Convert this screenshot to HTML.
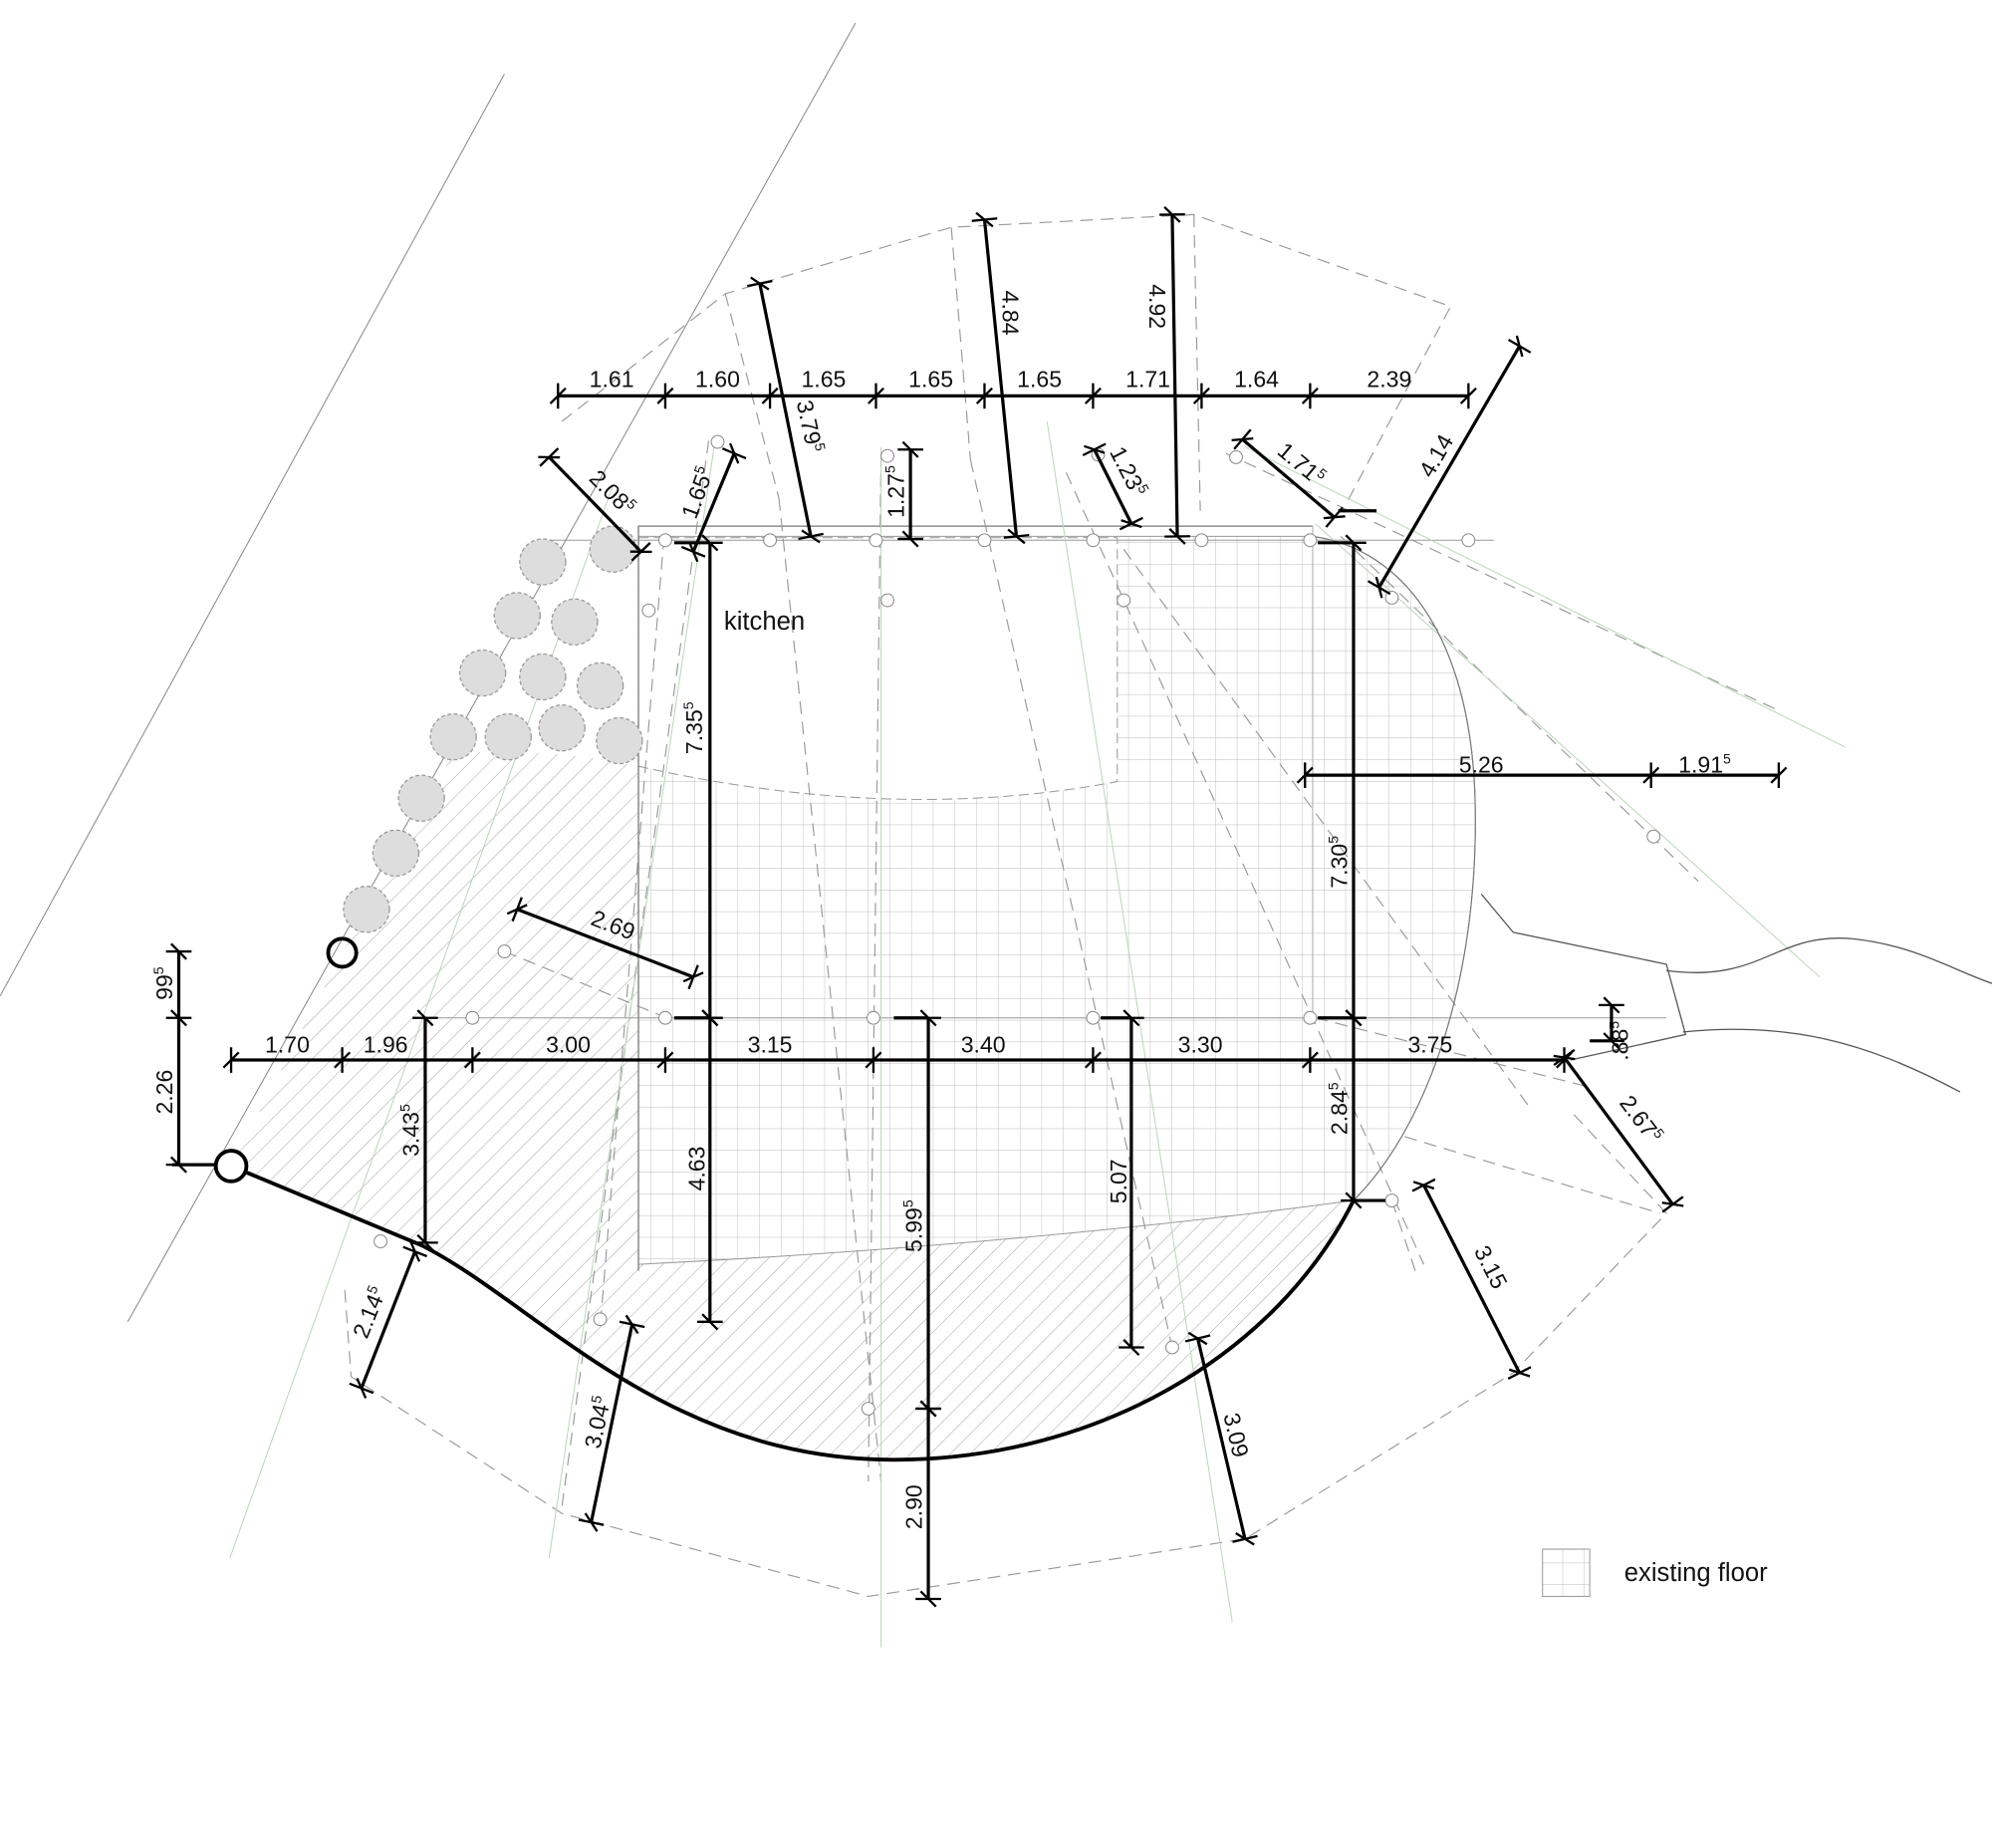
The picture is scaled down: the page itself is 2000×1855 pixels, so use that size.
<!DOCTYPE html>
<html><head><meta charset="utf-8"><style>
html,body{margin:0;padding:0;background:#fff}
svg{display:block}
text{font-family:"Liberation Sans",sans-serif;fill:#111}
.d{font-size:18px}
.s{font-size:11px}
</style></head><body>
<svg width="2000" height="1855" viewBox="0 0 1560 1447" preserveAspectRatio="none" xmlns="http://www.w3.org/2000/svg">
<defs>
<pattern id="grid" width="17" height="17" patternUnits="userSpaceOnUse">
<path d="M17 0V17M0 17H17" stroke="#bbb" stroke-width="0.7" fill="none"/>
</pattern>
<pattern id="hatch" width="11" height="11" patternUnits="userSpaceOnUse" patternTransform="rotate(45)">
<line x1="0" y1="0" x2="0" y2="11" stroke="#999" stroke-width="0.7"/>
</pattern>
<marker id="t" markerUnits="userSpaceOnUse" markerWidth="30" markerHeight="30" refX="0" refY="0" viewBox="-15 -15 30 30" orient="auto" overflow="visible">
<path d="M0,-10 L0,10 M-6,6 L6,-6" stroke="#000" stroke-width="1.8" fill="none"/>
</marker>
</defs>
<rect width="1560" height="1447" fill="#fff"/>
<g stroke="#888" stroke-width="0.8" fill="none">
<line x1="0" y1="780" x2="395" y2="58"/>
<line x1="100" y1="1035" x2="670" y2="18"/>
</g>
<path d="M500,420 L1028,420 C1100,430 1150,500 1155,620 C1160,760 1120,880 1060,940 Q800,975 500,990 Z" fill="url(#grid)" stroke="#999" stroke-width="0.8"/>
<path d="M500,421 L875,421 L875,612 Q700,645 500,600 Z" fill="#fff" stroke="#999" stroke-width="0.8" stroke-dasharray="8 4"/>
<path d="M355,590 Q430,585 500,600 L500,990 Q800,975 1060,940 C1000,1060 860,1143 700,1143 C520,1143 420,1020 330,975 L181,913 L268,746 Z" fill="url(#hatch)" stroke="none"/>
<path d="M500,995 L500,412 L1028,412" fill="none" stroke="#777" stroke-width="1"/>
<line x1="1028" y1="412" x2="1028" y2="800" stroke="#aaa" stroke-width="0.8"/>
<g stroke="#999" stroke-width="0.8" fill="none">
<line x1="430" y1="423" x2="1170" y2="423"/>
<line x1="330" y1="797" x2="1305" y2="797"/>
</g>
<g stroke="#999" stroke-width="0.9" fill="none" stroke-dasharray="10 6">
<polyline points="440,330 568,230 745,178 935,168 1136,240 1055,393"/>
<polyline points="270,1010 275,1078 440,1185 680,1250 975,1205 1185,1075 1305,950 1230,870"/>
<polyline points="1100,890 1300,950"/>
<line x1="568" y1="230" x2="610" y2="390"/>
<line x1="745" y1="178" x2="760" y2="360"/>
<line x1="935" y1="168" x2="940" y2="400"/>
<line x1="610" y1="390" x2="690" y2="1160"/>
<line x1="690" y1="355" x2="680" y2="1160"/>
<line x1="760" y1="360" x2="918" y2="1055"/>
<line x1="835" y1="370" x2="1115" y2="990"/>
<line x1="880" y1="430" x2="1200" y2="870"/>
<line x1="960" y1="355" x2="1390" y2="555"/>
<line x1="1050" y1="420" x2="1330" y2="690"/>
<line x1="555" y1="345" x2="440" y2="1180"/>
<line x1="520" y1="420" x2="470" y2="1040"/>
<line x1="395" y1="745" x2="522" y2="797"/>
<line x1="1030" y1="797" x2="1240" y2="850"/>
<line x1="1090" y1="940" x2="1110" y2="1000"/>
</g>
<g stroke="#bcd6bc" stroke-width="0.8" fill="none">
<line x1="560" y1="345" x2="430" y2="1220"/>
<line x1="820" y1="330" x2="965" y2="1270"/>
<line x1="975" y1="350" x2="1445" y2="585"/>
<line x1="1030" y1="410" x2="1425" y2="765"/>
<line x1="480" y1="380" x2="180" y2="1220"/>
<line x1="690" y1="350" x2="690" y2="1290"/>
</g>
<path d="M1028,420 C1100,430 1150,500 1155,620 C1160,760 1120,880 1060,940" fill="none" stroke="#777" stroke-width="0.9"/>
<g stroke="#555" stroke-width="1" fill="none">
<path d="M1160,700 L1185,730 L1305,755 L1320,810 L1230,830"/>
<path d="M1305,760 C1380,770 1390,730 1450,735 C1500,740 1530,760 1560,770"/>
<path d="M1318,808 C1400,800 1460,815 1535,855"/>
</g>
<g stroke="#888" stroke-width="0.8" fill="#fff">
<circle cx="521" cy="423" r="5"/><circle cx="603" cy="423" r="5"/><circle cx="686" cy="423" r="5"/><circle cx="771" cy="423" r="5"/><circle cx="856" cy="423" r="5"/><circle cx="941" cy="423" r="5"/><circle cx="1026" cy="423" r="5"/><circle cx="1150" cy="423" r="5"/>
<circle cx="521" cy="797" r="5"/><circle cx="684" cy="797" r="5"/><circle cx="856" cy="797" r="5"/><circle cx="1026" cy="797" r="5"/><circle cx="370" cy="797" r="5"/>
<circle cx="395" cy="745" r="5"/><circle cx="562" cy="346" r="5"/><circle cx="695" cy="357" r="5"/><circle cx="860" cy="356" r="5"/><circle cx="968" cy="358" r="5"/><circle cx="1090" cy="468" r="5"/><circle cx="1295" cy="655" r="5"/><circle cx="1090" cy="940" r="5"/><circle cx="918" cy="1055" r="5"/><circle cx="680" cy="1103" r="5"/><circle cx="470" cy="1033" r="5"/><circle cx="298" cy="972" r="5"/><circle cx="508" cy="478" r="5"/><circle cx="695" cy="470" r="5"/><circle cx="880" cy="470" r="5"/>
</g>
<g fill="#ddd" stroke="#999" stroke-width="1" stroke-dasharray="3 2">
<circle cx="425" cy="440" r="18"/><circle cx="480" cy="430" r="18"/><circle cx="405" cy="482" r="18"/><circle cx="450" cy="487" r="18"/><circle cx="378" cy="527" r="18"/><circle cx="425" cy="530" r="18"/><circle cx="470" cy="537" r="18"/><circle cx="355" cy="577" r="18"/><circle cx="398" cy="577" r="18"/><circle cx="440" cy="570" r="18"/><circle cx="485" cy="580" r="18"/><circle cx="330" cy="625" r="18"/><circle cx="310" cy="668" r="18"/><circle cx="287" cy="712" r="18"/>
</g>
<path d="M181,913 L330,975 C420,1020 520,1143 700,1143 C860,1143 1000,1060 1060,940" fill="none" stroke="#000" stroke-width="3"/>
<circle cx="268" cy="746" r="11" fill="none" stroke="#000" stroke-width="3"/>
<circle cx="181" cy="913" r="12" fill="#fff" stroke="#000" stroke-width="3"/>
<line x1="135" y1="912" x2="169" y2="912" stroke="#000" stroke-width="2.5"/>
<g stroke="#000" stroke-width="2.5" fill="none" marker-start="url(#t)" marker-end="url(#t)">
<polyline points="437,310 521,310 603,310 686,310 771,310 856,310 941,310 1026,310 1150,310" marker-mid="url(#t)"/>
<polyline points="181,830 268,830 370,830 521,830 684,830 856,830 1026,830 1225,830" marker-mid="url(#t)"/>
<polyline points="140,745 140,797 140,912" marker-mid="url(#t)"/>
<polyline points="1022,607 1293,607 1393,607" marker-mid="url(#t)"/>
<line x1="333" y1="797" x2="333" y2="973"/>
<line x1="556" y1="425" x2="556" y2="797"/>
<line x1="556" y1="797" x2="556" y2="1035"/>
<line x1="727" y1="797" x2="727" y2="1103"/>
<line x1="727" y1="1103" x2="727" y2="1252"/>
<line x1="886" y1="797" x2="886" y2="1055"/>
<line x1="1060" y1="425" x2="1060" y2="797"/>
<line x1="1060" y1="797" x2="1060" y2="940"/>
<line x1="1262" y1="787" x2="1262" y2="815"/>
<line x1="1225" y1="828" x2="1310" y2="943"/>
<line x1="1115" y1="928" x2="1190" y2="1075"/>
<line x1="938" y1="1048" x2="975" y2="1205"/>
<line x1="495" y1="1037" x2="463" y2="1192"/>
<line x1="325" y1="980" x2="283" y2="1087"/>
<line x1="405" y1="712" x2="543" y2="765"/>
<line x1="430" y1="358" x2="502" y2="432"/>
<line x1="575" y1="355" x2="543" y2="432"/>
<line x1="595" y1="222" x2="635" y2="420"/>
<line x1="713" y1="352" x2="713" y2="422"/>
<line x1="771" y1="172" x2="796" y2="420"/>
<line x1="918" y1="168" x2="922" y2="420"/>
<line x1="857" y1="352" x2="886" y2="410"/>
<line x1="973" y1="344" x2="1045" y2="405"/>
<line x1="1190" y1="271" x2="1080" y2="460"/>
</g>
<g stroke="#000" stroke-width="2.5">
<line x1="528" y1="425" x2="556" y2="425"/><line x1="528" y1="797" x2="556" y2="797"/>
<line x1="700" y1="797" x2="727" y2="797"/><line x1="862" y1="797" x2="886" y2="797"/>
<line x1="1032" y1="425" x2="1060" y2="425"/><line x1="1032" y1="797" x2="1060" y2="797"/>
<line x1="1060" y1="940" x2="1085" y2="940"/><line x1="1245" y1="815" x2="1262" y2="815"/>
<line x1="1048" y1="400" x2="1078" y2="400"/>
</g>
<g class="d">
<text x="479" y="303" text-anchor="middle">1.61</text>
<text x="562" y="303" text-anchor="middle">1.60</text>
<text x="645" y="303" text-anchor="middle">1.65</text>
<text x="729" y="303" text-anchor="middle">1.65</text>
<text x="814" y="303" text-anchor="middle">1.65</text>
<text x="899" y="303" text-anchor="middle">1.71</text>
<text x="984" y="303" text-anchor="middle">1.64</text>
<text x="1088" y="303" text-anchor="middle">2.39</text>
<text x="225" y="824" text-anchor="middle">1.70</text>
<text x="302" y="824" text-anchor="middle">1.96</text>
<text x="445" y="824" text-anchor="middle">3.00</text>
<text x="603" y="824" text-anchor="middle">3.15</text>
<text x="770" y="824" text-anchor="middle">3.40</text>
<text x="940" y="824" text-anchor="middle">3.30</text>
<text x="1120" y="824" text-anchor="middle">3.75</text>
<text x="1160" y="605" text-anchor="middle">5.26</text>
<text x="1335" y="605" text-anchor="middle">1.91<tspan class="s" dy="-7">5</tspan></text>
<text transform="translate(550,570) rotate(-90)" text-anchor="middle">7.35<tspan class="s" dy="-7">5</tspan></text>
<text transform="translate(552,915) rotate(-90)" text-anchor="middle">4.63</text>
<text transform="translate(722,960) rotate(-90)" text-anchor="middle">5.99<tspan class="s" dy="-7">5</tspan></text>
<text transform="translate(722,1180) rotate(-90)" text-anchor="middle">2.90</text>
<text transform="translate(882,925) rotate(-90)" text-anchor="middle">5.07</text>
<text transform="translate(1055,675) rotate(-90)" text-anchor="middle">7.30<tspan class="s" dy="-7">5</tspan></text>
<text transform="translate(1055,868) rotate(-90)" text-anchor="middle">2.84<tspan class="s" dy="-7">5</tspan></text>
<text transform="translate(328,885) rotate(-90)" text-anchor="middle">3.43<tspan class="s" dy="-7">5</tspan></text>
<text transform="translate(135,855) rotate(-90)" text-anchor="middle">2.26</text>
<text transform="translate(135,770) rotate(-90)" text-anchor="middle">99<tspan class="s" dy="-7">5</tspan></text>
<text transform="translate(708,385) rotate(-90)" text-anchor="middle">1.27<tspan class="s" dy="-7">5</tspan></text>
<text transform="translate(1275,815) rotate(-90)" text-anchor="middle">.88<tspan class="s" dy="-7">5</tspan></text>
<text transform="translate(785,245) rotate(90)" text-anchor="middle">4.84</text>
<text transform="translate(900,240) rotate(90)" text-anchor="middle">4.92</text>
<text transform="translate(628,335) rotate(78)" text-anchor="middle">3.79<tspan class="s" dy="-7">5</tspan></text>
<text transform="translate(878,372) rotate(63)" text-anchor="middle">1.23<tspan class="s" dy="-7">5</tspan></text>
<text transform="translate(1015,368) rotate(40)" text-anchor="middle">1.71<tspan class="s" dy="-7">5</tspan></text>
<text transform="translate(1130,360) rotate(-60)" text-anchor="middle">4.14</text>
<text transform="translate(475,390) rotate(45)" text-anchor="middle">2.08<tspan class="s" dy="-7">5</tspan></text>
<text transform="translate(552,388) rotate(-70)" text-anchor="middle">1.65<tspan class="s" dy="-7">5</tspan></text>
<text transform="translate(478,730) rotate(21)" text-anchor="middle">2.69</text>
<text transform="translate(1280,880) rotate(53)" text-anchor="middle">2.67<tspan class="s" dy="-7">5</tspan></text>
<text transform="translate(1162,995) rotate(63)" text-anchor="middle">3.15</text>
<text transform="translate(962,1125) rotate(77)" text-anchor="middle">3.09</text>
<text transform="translate(474,1115) rotate(-78)" text-anchor="middle">3.04<tspan class="s" dy="-7">5</tspan></text>
<text transform="translate(295,1030) rotate(-68)" text-anchor="middle">2.14<tspan class="s" dy="-7">5</tspan></text>
</g>
<text x="567" y="493" style="font-size:20px">kitchen</text>
<rect x="1208" y="1213" width="37" height="37" fill="url(#grid)" stroke="#999" stroke-width="0.8"/>
<text x="1272" y="1238" style="font-size:20px">existing floor</text>
</svg>
</body></html>
